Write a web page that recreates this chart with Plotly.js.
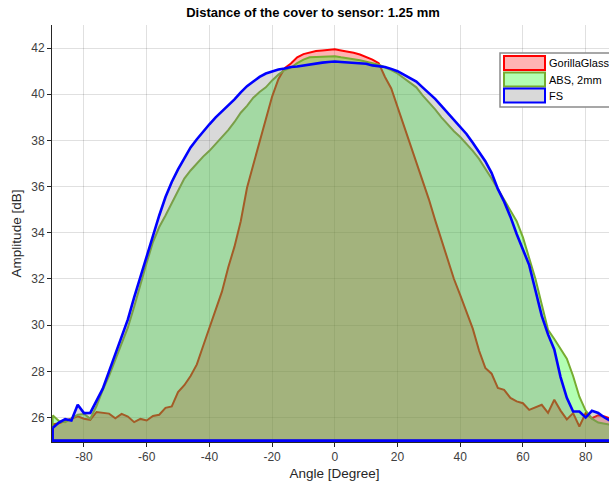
<!DOCTYPE html>
<html>
<head>
<meta charset="utf-8">
<script src="https://cdn.plot.ly/plotly-3.0.1.min.js"></script>
<style>
html, body { margin:0; padding:0; overflow:hidden; background:#fff; }
#chart { width:630px; height:485px; }
</style>
</head>
<body>
<div id="chart"></div>
<script>
const angle = [-90,-88,-86,-84,-82,-80,-78,-76,-74,-72,-70,-68,-66,-64,-62,-60,-58,-56,-54,-52,
  -50,-48,-46,-44,-42,-40,-38,-36,-34,-32,-30,-28,-26,-24,-22,-20,-18,-16,-14,-12,
  -10,-8,-6,-4,-2,0,2,4,6,8,10,12,14,16,18,20,22,24,26,28,
  30,32,34,36,38,40,42,44,46,48,50,52,54,56,58,60,62,64,66,68,
  70,72,74,76,78,80,82,84,86,88,90];

const gorillaGlass = [25.70,25.75,25.85,25.95,26.05,25.95,25.90,26.24,26.22,26.17,25.97,26.16,26.04,25.80,25.94,25.87,26.07,26.12,26.42,26.48,
  27.10,27.40,27.80,28.30,29.10,29.90,30.70,31.45,32.50,33.40,34.50,35.95,36.95,37.95,38.95,39.90,40.65,41.13,41.33,41.60,
  41.74,41.82,41.87,41.90,41.92,41.95,41.90,41.86,41.80,41.72,41.62,41.50,41.35,40.75,40.25,39.45,38.70,37.85,37.05,36.35,
  35.45,34.55,33.70,32.80,32.00,31.30,30.55,29.85,28.90,28.15,27.90,27.28,27.20,26.85,26.70,26.62,26.33,26.45,26.55,26.20,
  26.77,26.30,25.92,26.19,25.61,26.19,25.97,26.10,26.05,25.95,25.90];

const abs2mm = [26.10,25.85,25.80,25.95,26.12,26.15,25.95,26.50,27.20,27.80,28.50,29.20,29.90,30.80,31.80,32.70,33.60,34.25,34.75,35.30,
  35.85,36.35,36.70,37.00,37.30,37.55,37.85,38.15,38.45,38.80,39.20,39.50,39.85,40.10,40.30,40.60,40.85,41.05,41.15,41.35,
  41.50,41.60,41.62,41.64,41.66,41.65,41.60,41.57,41.52,41.47,41.42,41.35,41.28,41.18,41.05,40.90,40.70,40.50,40.30,39.95,
  39.65,39.35,39.00,38.70,38.40,38.15,37.85,37.55,37.20,36.80,36.35,35.90,35.45,35.00,34.50,33.80,32.90,32.00,30.90,29.80,
  29.40,29.00,28.55,27.80,26.90,26.30,25.95,25.78,25.72,25.68,25.65];

const fs = [25.55,25.78,25.93,25.87,26.55,26.19,26.20,26.70,27.25,28.00,28.75,29.45,30.25,31.20,32.10,32.95,33.85,34.75,35.55,36.20,
  36.75,37.25,37.70,38.05,38.40,38.70,39.00,39.25,39.50,39.78,40.08,40.35,40.55,40.75,40.90,41.00,41.07,41.12,41.18,41.20,
  41.25,41.30,41.33,41.37,41.40,41.42,41.40,41.38,41.36,41.33,41.32,41.25,41.22,41.18,41.10,41.00,40.85,40.70,40.55,40.30,
  40.05,39.80,39.50,39.20,38.90,38.60,38.28,37.90,37.50,37.10,36.60,35.90,35.35,34.70,33.95,33.30,32.60,31.50,30.40,29.60,
  28.95,27.75,26.85,26.26,26.26,26.00,26.29,26.20,26.00,25.85,25.80];

const seriesNames = ['GorillaGlass', 'ABS, 2mm', 'FS'];
const baseline = 25;
const xTicks = [-80,-60,-40,-20,0,20,40,60,80];
const yTicks = [26,28,30,32,34,36,38,40,42];

const edgeColors = ['rgb(255,0,0)', 'rgb(119,172,48)', 'rgb(0,0,255)'];
const faceColors = ['rgba(255,0,0,0.3)', 'rgba(0,255,0,0.3)', 'rgba(128,128,128,0.3)'];
const legendFaces = ['rgb(255,179,179)', 'rgb(179,255,179)', 'rgb(217,217,217)'];
const widths = [2, 2, 2.6];

function polygon(xs, ys) {
  const n = xs.length;
  return {
    x: xs.concat([xs[n-1], xs[0], xs[0]]),
    y: ys.concat([baseline, baseline, ys[0]])
  };
}

const allSeries = [gorillaGlass, abs2mm, fs];
const traces = allSeries.map((vals, i) => {
  const p = polygon(angle, vals);
  return {
    type: 'scatter', mode: 'lines', x: p.x, y: p.y,
    fill: 'toself', fillcolor: faceColors[i],
    line: {color: edgeColors[i], width: widths[i]},
    name: seriesNames[i], showlegend: false, hoverinfo: 'skip'
  };
});

// manual legend (pixel layout converted to paper coords)
const W = 630, H = 485, mL = 52, mR = 13, mT = 25, mB = 43;
const pw = W - mL - mR, ph = H - mT - mB;
const px = v => (v - mL) / pw;
const py = v => 1 - (v - mT) / ph;

const shapes = [{
  type: 'rect', xref: 'paper', yref: 'paper', layer: 'above',
  x0: px(500), x1: px(640), y0: py(53), y1: py(107),
  fillcolor: 'white', line: {color: '#8a8a8a', width: 1.5}
}];
const annotations = [];
const rowTop = [56, 72.5, 88.5];
seriesNames.forEach((nm, i) => {
  shapes.push({
    type: 'rect', xref: 'paper', yref: 'paper', layer: 'above',
    x0: px(504), x1: px(545), y0: py(rowTop[i]), y1: py(rowTop[i] + 14),
    fillcolor: legendFaces[i], line: {color: edgeColors[i], width: 2}
  });
  annotations.push({
    xref: 'paper', yref: 'paper', x: px(547), y: py(rowTop[i] + 7.5),
    xanchor: 'left', yanchor: 'middle', text: nm, showarrow: false,
    font: {family: 'Liberation Sans, Arial, sans-serif', size: 11, color: '#000'}
  });
});

const layout = {
  width: W, height: H,
  margin: {l: mL, r: mR, t: mT, b: mB, pad: 0},
  paper_bgcolor: 'white', plot_bgcolor: 'white',
  showlegend: false,
  font: {family: 'Liberation Sans, Arial, sans-serif', size: 12, color: '#262626'},
  title: {
    text: 'Distance of the cover to sensor: 1.25 mm',
    font: {family: 'Liberation Sans, Arial, sans-serif', size: 13, color: '#000', weight: 'bold'},
    xref: 'container', x: 313 / W, xanchor: 'center', yref: 'container', y: 1 - 12 / H, yanchor: 'middle'
  },
  xaxis: {
    range: [-90.2, 90], tickvals: xTicks, ticktext: xTicks.map(String),
    showgrid: true, gridcolor: 'rgba(0,0,0,0.12)', gridwidth: 1,
    zeroline: false, showline: true, linecolor: '#262626', linewidth: 1,
    ticks: 'outside', ticklen: 4, tickcolor: '#262626',
    tickfont: {size: 12, color: '#404040'},
    title: {text: 'Angle [Degree]', font: {size: 13.5, color: '#262626'}, standoff: 5}
  },
  yaxis: {
    range: [24.94, 43], tickvals: yTicks, ticktext: yTicks.map(String),
    showgrid: true, gridcolor: 'rgba(0,0,0,0.12)', gridwidth: 1,
    zeroline: false, showline: true, linecolor: '#262626', linewidth: 1,
    ticks: 'outside', ticklen: 4, tickcolor: '#262626',
    tickfont: {size: 12, color: '#404040'},
    title: {text: 'Amplitude [dB]', font: {size: 13.5, color: '#262626'}, standoff: 6}
  },
  shapes: shapes,
  annotations: annotations
};

Plotly.newPlot('chart', traces, layout, {displayModeBar: false, staticPlot: true});
</script>
</body>
</html>
